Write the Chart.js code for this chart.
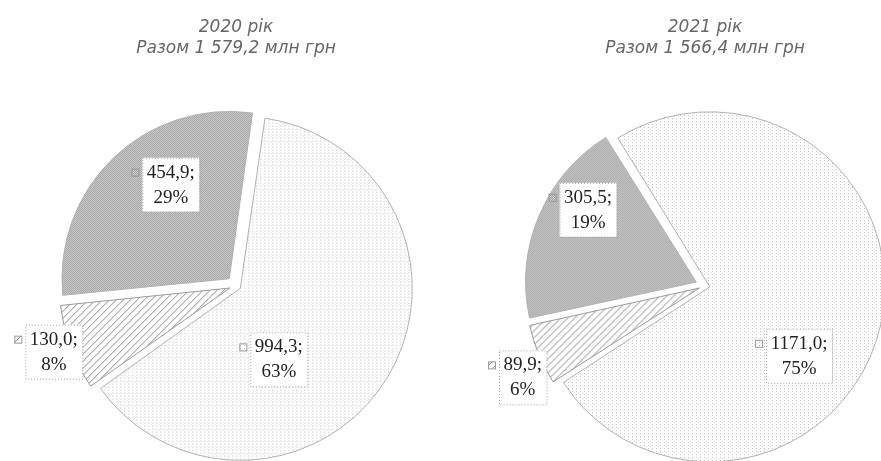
<!DOCTYPE html>
<html>
<head>
<meta charset="utf-8">
<script src="https://cdn.jsdelivr.net/npm/chart.js@4"></script>
<style>
  html, body { margin: 0; padding: 0; background: #fff; }
  body { width: 881px; height: 461px; overflow: hidden; position: relative; }
  .box { position: absolute; top: 0; height: 512px; }
  #box2020 { left: 0; width: 472px; }
  #box2021 { left: 455px; width: 500px; }
</style>
</head>
<body>
<div class="box" id="box2020"><canvas id="pie2020"></canvas></div>
<div class="box" id="box2021"><canvas id="pie2021"></canvas></div>
<script>
// data
var categories = ['Категорія 1', 'Категорія 2', 'Категорія 3'];
var values2020 = [994.3, 130.0, 454.9];
var values2021 = [1171.0, 89.9, 305.5];
var percent2020 = [63, 8, 29];
var percent2021 = [75, 6, 19];
var title2020 = ['2020 рік', 'Разом 1 579,2 млн грн'];
var title2021 = ['2021 рік', 'Разом 1 566,4 млн грн'];

// small tiles to imitate the scanned fills
function makePattern(w, h, paint) {
    var c = document.createElement('canvas');
    c.width = w;
    c.height = h;
    var g = c.getContext('2d');
    paint(g);
    return g.createPattern(c, 'repeat');
}

var lightDots = makePattern(4, 6, function(g) {
    g.fillStyle = '#fff';
    g.fillRect(0, 0, 4, 6);
    g.fillStyle = '#bdbdbd';
    g.fillRect(0, 0, 1, 1);
    g.fillRect(0, 3, 1, 1);
    g.fillStyle = '#e2e2e2';
    g.fillRect(2, 1, 1, 1);
});
var hatch = makePattern(7, 7, function(g) {
    g.fillStyle = '#fff';
    g.fillRect(0, 0, 7, 7);
    g.fillStyle = '#8a8a8a';
    for (var i = 0; i < 7; i++) g.fillRect(i, 6 - i, 1, 1);
});
var greyDots = makePattern(2, 2, function(g) {
    g.fillStyle = '#d8d8d8';
    g.fillRect(0, 0, 2, 2);
    g.fillStyle = '#999';
    g.fillRect(0, 0, 1, 1);
    g.fillRect(1, 1, 1, 1);
});
var fills = [lightDots, hatch, greyDots];

// value + percent labels in boxes, with a legend key in front
var sliceLabels = {
    id: 'sliceLabels',
    afterDatasetsDraw: function(chart, args, opts) {
        var ctx = chart.ctx;
        var meta = chart.getDatasetMeta(0);
        var data = chart.data.datasets[0].data;
        ctx.save();
        ctx.font = '19px "Liberation Serif"';
        ctx.textAlign = 'center';
        ctx.textBaseline = 'middle';
        meta.data.forEach(function(arc, i) {
            var a = (opts.place[i][0] - 90) * Math.PI / 180;
            var r = arc.outerRadius * opts.place[i][1];
            var cx = arc.x + Math.cos(a) * r;
            var cy = arc.y + Math.sin(a) * r;
            var line1 = data[i].toFixed(1).replace('.', ',') + ';';
            var line2 = opts.percents[i] + '%';
            var w = Math.max(ctx.measureText(line1).width, ctx.measureText(line2).width) + 9;
            var left = cx - w / 2;
            var top = cy - 27;
            ctx.fillStyle = '#fff';
            ctx.fillRect(left, top, w, 54);
            ctx.strokeStyle = '#a0a0a0';
            ctx.lineWidth = 1;
            ctx.setLineDash([1, 2]);
            ctx.strokeRect(left + 0.5, top + 0.5, w, 54);
            ctx.setLineDash([]);
            // legend key
            ctx.fillStyle = fills[i];
            ctx.fillRect(left - 11, cy - 16, 7, 7);
            ctx.strokeStyle = '#999';
            ctx.strokeRect(left - 10.5, cy - 15.5, 7, 7);
            ctx.fillStyle = '#222';
            ctx.fillText(line1, cx, cy - 12);
            ctx.fillText(line2, cx, cy + 13);
        });
        ctx.restore();
    }
};

function titleOpts(text) {
    return {
        display: true,
        text: text,
        color: '#666',
        font: { family: 'DejaVu Sans', size: 17, style: 'italic', weight: 'normal', lineHeight: 1.25 },
        padding: { top: 17, bottom: 0 }
    };
}

var pie2020 = new Chart(document.getElementById('pie2020').getContext('2d'), {
    type: 'pie',
    data: {
        labels: categories,
        datasets: [{
            data: values2020,
            backgroundColor: fills,
            borderColor: ['#b0b0b0', '#9a9a9a', '#b0b0b0'],
            borderWidth: 1,
            offset: [20, 26, 39],
            clip: false
        }]
    },
    options: {
        responsive: true,
        maintainAspectRatio: false,
        animation: false,
        events: [],
        rotation: 8,
        radius: 167,
        plugins: {
            legend: { display: false },
            tooltip: { enabled: false },
            title: titleOpts(title2020),
            sliceLabels: { place: [[149.8, 0.51], [250.1, 1.16], [327.2, 0.72]], percents: percent2020 }
        }
    },
    plugins: [sliceLabels]
});

var pie2021 = new Chart(document.getElementById('pie2021').getContext('2d'), {
    type: 'pie',
    data: {
        labels: categories,
        datasets: [{
            data: values2021,
            backgroundColor: fills,
            borderColor: ['#b0b0b0', '#9a9a9a', '#b0b0b0'],
            borderWidth: 1,
            offset: [20, 24, 38],
            clip: false
        }]
    },
    options: {
        responsive: true,
        maintainAspectRatio: false,
        animation: false,
        events: [],
        rotation: -32,
        radius: 170,
        plugins: {
            legend: { display: false },
            tooltip: { enabled: false },
            title: titleOpts(title2021),
            sliceLabels: { place: [[126.7, 0.69], [243.3, 1.20], [303, 0.82]], percents: percent2021 }
        }
    },
    plugins: [sliceLabels]
});
</script>
</body>
</html>
